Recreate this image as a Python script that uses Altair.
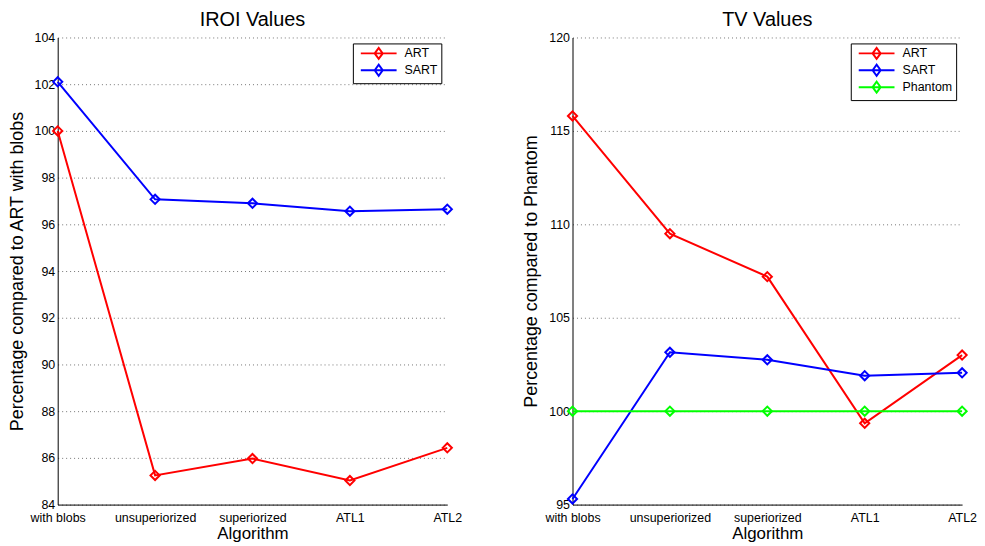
import altair as alt
import pandas as pd

categories = ["with blobs", "unsuperiorized", "superiorized", "ATL1", "ATL2"]

iroi_art = [100.0, 85.25, 85.97, 85.03, 86.43]
iroi_sart = [102.1, 97.07, 96.9, 96.56, 96.65]

tv_art = [115.8, 109.5, 107.2, 99.35, 103.0]
tv_sart = [95.3, 103.15, 102.75, 101.9, 102.05]
tv_phantom = [100.0, 100.0, 100.0, 100.0, 100.0]


def long_df(series):
    rows = []
    for name, vals in series:
        for i, (c, v) in enumerate(zip(categories, vals)):
            rows.append({"Algorithm": c, "series": name, "value": v, "order": i})
    return pd.DataFrame(rows)


iroi_df = long_df([("ART", iroi_art), ("SART", iroi_sart)])
tv_df = long_df([("ART", tv_art), ("SART", tv_sart), ("Phantom", tv_phantom)])

FONT = "Liberation Sans"
LEG_PATH = "M-3,0L3,0M-0.67,0L0,-0.92L0.67,0L0,0.92Z"
W = 392
H = 470

AXIS_COMMON = dict(
    labelFont=FONT,
    titleFont=FONT,
    labelFontSize=12.5,
    titleFontWeight="normal",
    labelColor="black",
    titleColor="black",
    domainColor="black",
    gridColor="#000000",
    gridOpacity=0.55,
    gridDash=[1, 3],
    gridWidth=1,
    ticks=False,
)


def panel(df, title, ytitle, ydom, ystep, names, colors):
    legend = alt.Legend(
        title=None,
        orient="top-right",
        offset=6,
        strokeColor="black",
        fillColor="white",
        padding=3,
        symbolType=LEG_PATH,
        symbolSize=144,
        symbolOffset=16,
        symbolStrokeWidth=2,
        symbolFillColor="transparent",
        labelFontSize=12.5,
        labelFont=FONT,
        labelColor="black",
        rowPadding=-10,
        labelOffset=19,
    )
    vals = list(range(ydom[0], ydom[1] + 1, ystep))
    lines = alt.Chart(df).mark_line(
        strokeWidth=2,
        point=alt.OverlayMarkDef(shape="diamond", filled=False, size=85, strokeWidth=2),
    ).encode(
        x=alt.X(
            "Algorithm:N",
            sort=categories,
            scale=alt.Scale(type="point", padding=0),
            axis=alt.Axis(
                title="Algorithm",
                labelAngle=0,
                labelPadding=7,
                titlePadding=2,
                titleFontSize=17,
                **AXIS_COMMON,
            ),
        ),
        y=alt.Y(
            "value:Q",
            scale=alt.Scale(domain=ydom, nice=False, zero=False),
            axis=alt.Axis(
                title=ytitle,
                values=vals,
                labelPadding=3,
                titlePadding=8,
                titleFontSize=18,
                **AXIS_COMMON,
            ),
        ),
        color=alt.Color(
            "series:N",
            sort=names,
            scale=alt.Scale(domain=names, range=colors),
            legend=legend,
        ),
        order="order:Q",
    )
    ttl = alt.Chart(pd.DataFrame({"t": [title]})).mark_text(
        font=FONT, fontSize=20, color="black", baseline="middle", align="center"
    ).encode(
        x=alt.value(W / 2),
        y=alt.value(-18),
        text="t:N",
    )
    return alt.layer(lines, ttl).properties(width=W, height=H)


left = panel(iroi_df, "IROI Values", "Percentage compared to ART with blobs",
             [84, 104], 2, ["ART", "SART"], ["#ff0000", "#0000ff"])
right = panel(tv_df, "TV Values", "Percentage compared to Phantom",
              [95, 120], 5, ["ART", "SART", "Phantom"], ["#ff0000", "#0000ff", "#00ff00"])

chart = alt.hconcat(left, right, spacing=61).resolve_scale(color="independent").properties(
    padding={"left": 0, "top": 0, "right": 0, "bottom": 0},
    background="white",
).configure_view(
    strokeWidth=0
)

chart.save("out.html", embed_options={"renderer": "svg", "actions": False})
